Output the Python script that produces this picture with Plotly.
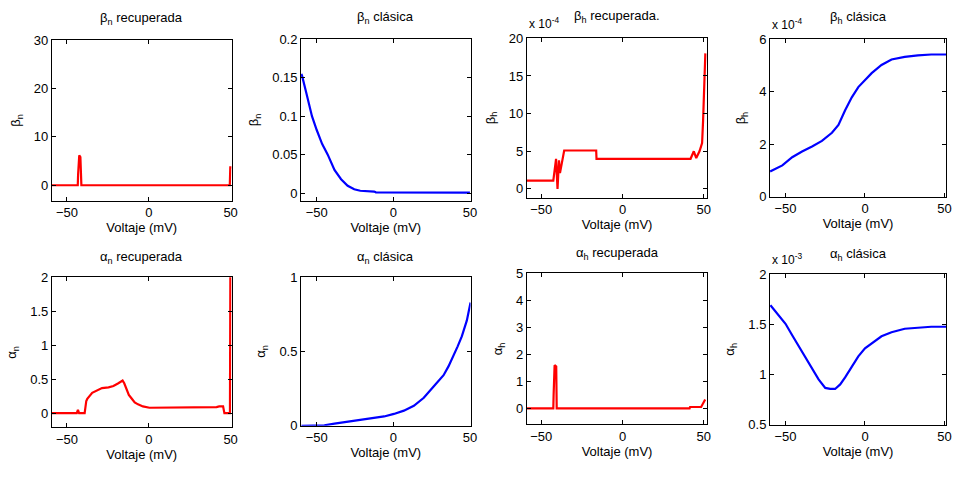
import plotly.graph_objects as go

W, H = 958, 481

# ---------------- data ----------------
# beta_n recuperada
bn_rec_v = [-59.2, -43.4, -43.2, -42.8, -42.5, -41.8, -41.5, -41.2, 49.5, 49.8, 50.6]
bn_rec = [0, 0, 2.2, 4.2, 6.2, 5.8, 0.5, 0, 0, 3.7, 3.7]

# beta_n clasica
bn_cla_v = [-60, -59.5, -56.9, -53.1, -50, -46.5, -42.8, -38.4, -34.1, -29.8, -25.5, -21.6, -12.5, -11.4, 50]
bn_cla = [0.155, 0.152, 0.131, 0.1, 0.082, 0.064, 0.05, 0.03, 0.018, 0.0095, 0.005, 0.003, 0.002, 0.001, 0.0005]

# beta_h recuperada (x 10^-4)
bh_rec_v = [-58.9, -42.6, -40.9, -40.0, -39.1, -38.5, -35.9, -16.2, -16.0, 41.9, 43.9, 45.4, 47.4, 49.0, 49.6, 50.4, 51.0]
bh_rec = [1.1, 1.1, 4.0, 0.0, 3.8, 2.1, 5.1, 5.1, 4.0, 4.0, 5.0, 4.1, 5.0, 6.1, 9.0, 15.0, 18.0]

# beta_h clasica (x 10^-4)
bh_cla_v = [-59.7, -52, -45.8, -39.6, -33.3, -27.1, -20.8, -16.7, -12.5, -8.3, -4.2, 0, 4.2, 10.4, 16.7, 25, 33.3, 41.7, 51]
bh_cla = [0.97, 1.2, 1.51, 1.73, 1.92, 2.13, 2.44, 2.74, 3.3, 3.79, 4.18, 4.46, 4.71, 5.02, 5.23, 5.33, 5.39, 5.42, 5.42]

# alpha_n recuperada
an_rec_v = [-59.2, -44, -43.3, -42.6, -41.6, -39.2, -38.2, -37.6, -34.6, -31.6, -28.6, -24.6, -21.6, -18.6,
            -16, -15, -13.6, -12.2, -10.6, -8.6, -6.6, -3.6, 0.4, 33.4, 34.5, 41.4, 43, 45.4, 46.2, 49.6,
            49.9, 50.2, 50.6]
an_rec = [0, 0, 0.05, 0, 0, 0, 0.18, 0.21, 0.3, 0.34, 0.37, 0.38, 0.4, 0.44,
          0.48, 0.44, 0.34, 0.27, 0.22, 0.16, 0.13, 0.1, 0.08, 0.08, 0.09, 0.09, 0.1, 0.1, 0, 0,
          2.5, 2.5, 2.5]

# alpha_n clasica
an_cla_v = [-60, -45, -38.4, -27.6, -14.7, -6, 0.4, 6.9, 13.4, 19.9, 26.3, 32.8, 36, 39.3, 42, 44.7, 48, 50.4]
an_cla = [0, 0.004, 0.015, 0.03, 0.048, 0.063, 0.08, 0.102, 0.135, 0.189, 0.265, 0.341, 0.4, 0.472, 0.535, 0.602, 0.71, 0.83]

# alpha_h recuperada
ah_rec_v = [-58.9, -42.6, -42.4, -42.1, -41.8, -40.8, -40.5, 41.3, 41.6, 48.4, 50.9]
ah_rec = [0, 0, 0.5, 1.0, 1.6, 1.55, 0, 0, 0.05, 0.05, 0.33]

# alpha_h clasica (x 10^-3)
ah_cla_v = [-59.5, -54.2, -50, -45.8, -41.7, -37.5, -33.3, -29.2, -25, -21.9, -18.8, -15.6, -12.5, -8.3,
            -4.2, 0, 4.2, 10.4, 16.7, 25, 33.3, 41.7, 51]
ah_cla = [1.69, 1.587, 1.505, 1.39, 1.28, 1.16, 1.05, 0.95, 0.865, 0.855, 0.855, 0.90, 0.97, 1.07,
          1.18, 1.26, 1.31, 1.38, 1.42, 1.455, 1.465, 1.475, 1.475]

titles = ["β<sub>n</sub> recuperada", "β<sub>n</sub> clásica", "β<sub>h</sub> recuperada.", "β<sub>h</sub> clásica",
          "α<sub>n</sub> recuperada", "α<sub>n</sub> clásica", "α<sub>h</sub> recuperada", "α<sub>h</sub> clásica"]
ytitles = ["β<sub>n</sub>", "β<sub>n</sub>", "β<sub>h</sub>", "β<sub>h</sub>",
           "α<sub>n</sub>", "α<sub>n</sub>", "α<sub>h</sub>", "α<sub>h</sub>"]
xtitle = "Voltaje (mV)"
xtick_vals = [-50, 0, 50]
ytick_vals = [[0, 10, 20, 30], [0, 0.05, 0.1, 0.15, 0.2], [0, 5, 10, 15, 20], [0, 2, 4, 6],
              [0, 0.5, 1, 1.5, 2], [0, 0.5, 1], [0, 1, 2, 3, 4, 5], [0.5, 1, 1.5, 2]]
exponents = {2: "x 10<sup>-4</sup>", 3: "x 10<sup>-4</sup>", 7: "x 10<sup>-3</sup>"}

series = [(bn_rec_v, bn_rec, "#ff0000"), (bn_cla_v, bn_cla, "#0000ff"),
          (bh_rec_v, bh_rec, "#ff0000"), (bh_cla_v, bh_cla, "#0000ff"),
          (an_rec_v, an_rec, "#ff0000"), (an_cla_v, an_cla, "#0000ff"),
          (ah_rec_v, ah_rec, "#ff0000"), (ah_cla_v, ah_cla, "#0000ff")]

# ---------------- layout geometry (pixels) ----------------
boxes = [(52.3, 233.3, 34, 200), (303.3, 474, 33.3, 200), (530.7, 712.5, 32.3, 196.7), (775.7, 953, 33.3, 196),
         (52.3, 233.3, 279, 434), (303.3, 474, 279, 432.3), (530.7, 712.5, 275, 430.7), (775.7, 953, 275.7, 431)]
xranges = [[-59.2, 50.6], [-60.2, 50.4], [-58.9, 52.2], [-59.75, 51],
           [-59.2, 50.6], [-60.2, 50.4], [-58.9, 52.2], [-59.75, 51]]
yranges = [[-3.2, 30], [-0.01, 0.2], [-1.15, 20], [0, 6],
           [-0.21, 2], [0, 1], [-0.59, 5], [0.5, 2]]

FONT = "Liberation Sans, Arial, sans-serif"
fig = go.Figure()
annotations = []
layout = {}
for i in range(8):
    v, y, c = series[i]
    n = "" if i == 0 else str(i + 1)
    fig.add_trace(go.Scatter(x=v, y=y, mode="lines", line=dict(color=c, width=2.2),
                             xaxis="x" + n, yaxis="y" + n, showlegend=False, hoverinfo="skip"))
    x0, x1, y0, y1 = boxes[i]
    common = dict(showline=True, linecolor="black", linewidth=1, mirror="ticks", ticks="inside",
                  ticklen=4, tickcolor="black", showgrid=False, zeroline=False,
                  tickfont=dict(family=FONT, size=13, color="black"))
    layout["xaxis" + n] = dict(domain=[x0 / W, x1 / W], range=xranges[i], anchor="y" + n,
                               tickvals=xtick_vals,
                               title=dict(text=xtitle, font=dict(family=FONT, size=13, color="black"), standoff=1),
                               **common)
    layout["yaxis" + n] = dict(domain=[1 - y1 / H, 1 - y0 / H], range=yranges[i], anchor="x" + n,
                               tickvals=ytick_vals[i],
                               title=dict(text=ytitles[i], font=dict(family=FONT, size=13, color="black"), standoff=10),
                               **common)
    annotations.append(dict(text=titles[i], x=(x0 + x1) / 2 / W, y=1 - y0 / H, xref="paper", yref="paper",
                            xanchor="center", yanchor="bottom", yshift=11 if i < 4 else 9, showarrow=False,
                            font=dict(family=FONT, size=13, color="black")))
    if i in exponents:
        annotations.append(dict(text=exponents[i], x=x0 / W, y=1 - y0 / H, xref="paper", yref="paper",
                                xanchor="left", yanchor="bottom", yshift=5, showarrow=False,
                                font=dict(family=FONT, size=12, color="black")))

fig.update_layout(width=W, height=H, margin=dict(l=0, r=0, t=0, b=0), paper_bgcolor="white",
                  plot_bgcolor="white", annotations=annotations, **layout)
fig.write_html("out.html")
